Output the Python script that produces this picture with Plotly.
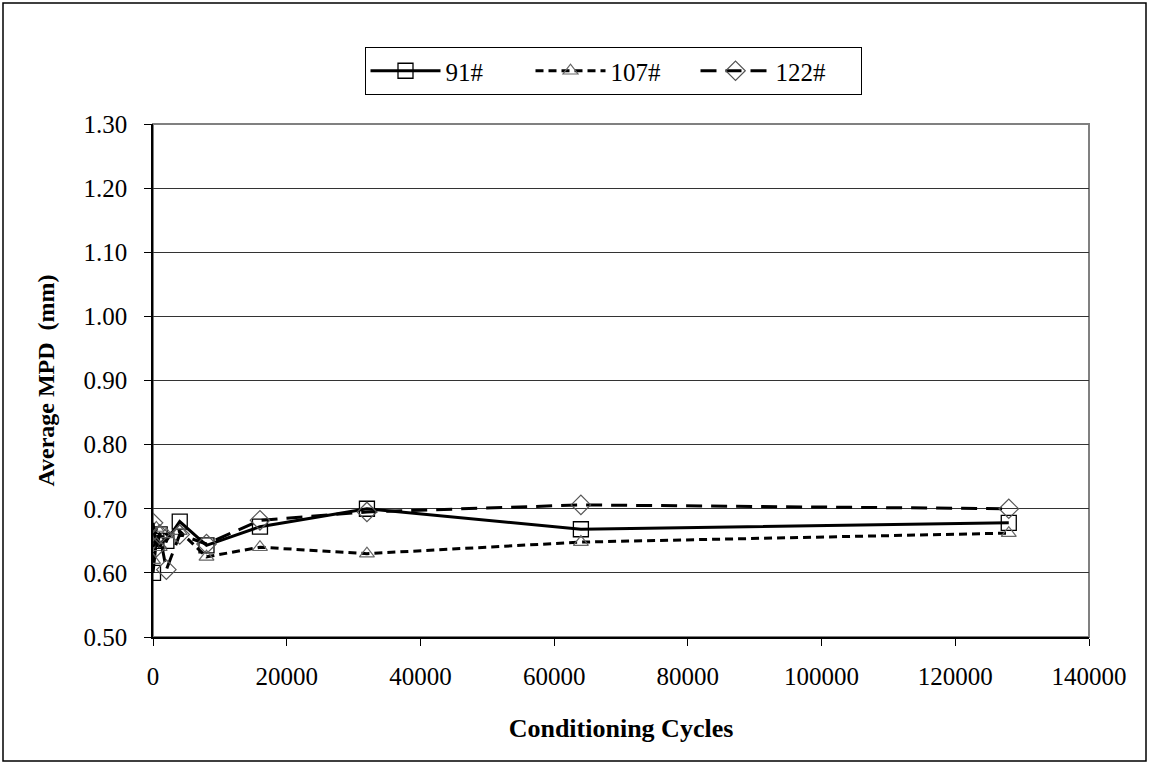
import plotly.graph_objects as go

# Conditioning cycles and average mean profile depth (mm) for each specimen
cycles = [0, 500, 1000, 2000, 4000, 8000, 16000, 32000, 64000, 128000]
mpd_91 = [0.600, 0.650, 0.660, 0.650, 0.680, 0.643, 0.672, 0.700, 0.668, 0.678]
mpd_107 = [0.620, 0.670, 0.640, 0.660, 0.665, 0.625, 0.640, 0.630, 0.648, 0.662]
mpd_122 = [0.678, 0.640, 0.660, 0.605, 0.660, 0.645, 0.682, 0.695, 0.706, 0.700]

y_ticks = [0.5, 0.6, 0.7, 0.8, 0.9, 1.0, 1.1, 1.2, 1.3]
x_ticks = [0, 20000, 40000, 60000, 80000, 100000, 120000, 140000]

FONT = "Liberation Serif, Times New Roman, serif"

fig = go.Figure()
fig.add_trace(go.Scatter(
    x=cycles, y=mpd_91, name="91#", mode="lines+markers",
    line=dict(color="black", width=3),
    marker=dict(symbol="square-open", size=15, color="black", line=dict(width=1.3)),
))
fig.add_trace(go.Scatter(
    x=cycles, y=mpd_107, name="107#", mode="lines+markers",
    line=dict(color="black", width=3, dash="8px,5px"),
    marker=dict(symbol="triangle-up-open", size=13, color="#666666", line=dict(width=1.2)),
))
fig.add_trace(go.Scatter(
    x=cycles, y=mpd_122, name="122#", mode="lines+markers",
    line=dict(color="black", width=3, dash="16px,9px"),
    marker=dict(symbol="diamond-open", size=15, color="#555555", line=dict(width=1.2)),
))

L, R, T, B = 153, 60, 124, 128
W, H = 1149, 765
pw, ph = W - L - R, H - T - B

def px_x(p):
    return (p - L) / pw

def px_y(p):
    return (H - B - p) / ph

fig.update_layout(
    width=W, height=H,
    margin=dict(l=L, r=R, t=T, b=B, autoexpand=False),
    paper_bgcolor="white", plot_bgcolor="white",
    font=dict(family=FONT, size=24, color="black"),
    showlegend=True,
    legend=dict(
        orientation="h", x=px_x(613), xanchor="center",
        y=px_y(47), yanchor="top",
        bordercolor="black", borderwidth=1, bgcolor="white",
        font=dict(family=FONT, size=25),
        itemwidth=70, entrywidth=80,
    ),
    xaxis=dict(
        range=[0, 140000], tickvals=x_ticks, ticktext=[str(v) for v in x_ticks],
        tickangle=0,
        showgrid=False, zeroline=False,
        showline=True, linecolor="black", linewidth=1.5,
        ticks="outside", ticklen=7, tickcolor="black",
        ticklabelstandoff=9,
        tickfont=dict(family=FONT, size=25),
        title=dict(text="<b>Conditioning Cycles</b>", standoff=30,
                   font=dict(family=FONT, size=26)),
    ),
    yaxis=dict(
        range=[0.5, 1.3], tickvals=y_ticks, ticktext=[f"{v:.2f}" for v in y_ticks],
        showgrid=True, gridcolor="#333333", gridwidth=1, zeroline=False,
        showline=True, linecolor="black", linewidth=1.5,
        ticks="outside", ticklen=7, tickcolor="black",
        ticklabelstandoff=12,
        tickfont=dict(family=FONT, size=25),
        title=dict(text="<b>Average MPD  (mm)</b>", standoff=22,
                   font=dict(family=FONT, size=24)),
    ),
)

# Gray frame around the plot area
fig.add_shape(type="rect", xref="paper", yref="paper", x0=0, x1=1, y0=0, y1=1,
              line=dict(color="#808080", width=2), layer="below")
# Outer chart border
fig.add_shape(type="rect", xref="paper", yref="paper",
              x0=px_x(3), x1=px_x(1146), y0=px_y(761), y1=px_y(3),
              line=dict(color="black", width=1.5))

fig.write_html("out.html")
